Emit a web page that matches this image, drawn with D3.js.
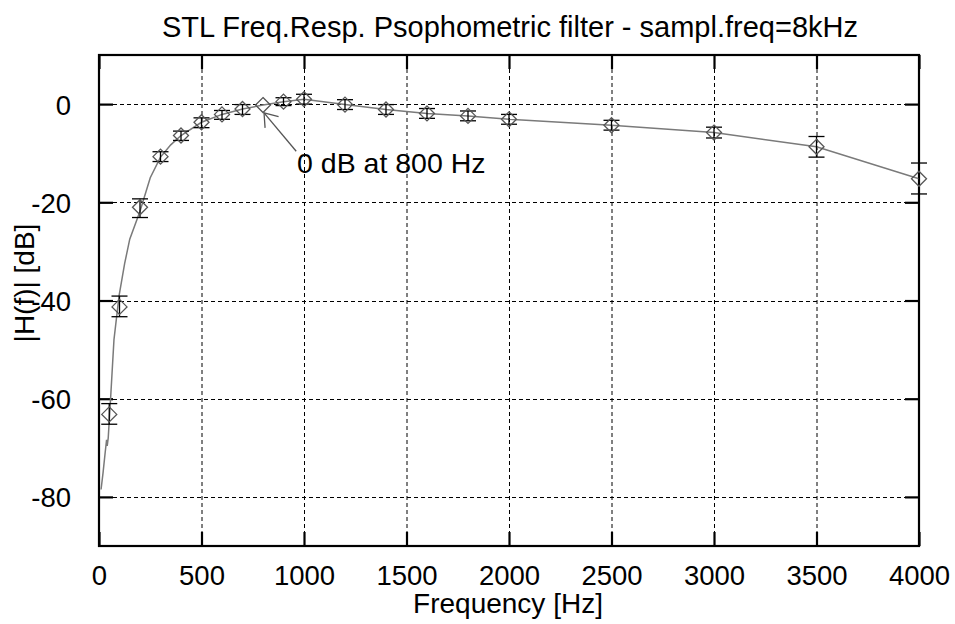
<!DOCTYPE html>
<html>
<head>
<meta charset="utf-8">
<script src="https://cdn.jsdelivr.net/npm/d3@7"></script>
<style>
  html, body { margin: 0; padding: 0; background: #fff; }
  svg text { font-family: "Liberation Sans", Arial, Helvetica, sans-serif; fill: #000; }
</style>
</head>
<body>
<svg id="chart" width="955" height="624"></svg>
<script>
// ---- data ----
const title = "STL Freq.Resp. Psophometric filter - sampl.freq=8kHz";
const xLabel = "Frequency [Hz]";
const yLabel = "|H(f)| [dB]";
const xTicks = [0, 500, 1000, 1500, 2000, 2500, 3000, 3500, 4000];
const yTicks = [0, -20, -40, -60, -80];

// measured points (diamonds) with error-bar limits
const pointFreq = [50, 100, 200, 300, 400, 500, 600, 700, 800, 900, 1000, 1200, 1400, 1600, 1800, 2000, 2500, 3000, 3500, 4000];
const pointDb   = [-63.2, -41.3, -21.0, -10.7, -6.4, -3.7, -2.1, -1.0, -0.2, 0.5, 1.0, -0.1, -1.1, -1.9, -2.4, -3.1, -4.3, -5.8, -8.7, -15.2];
const errHigh   = [-61.0, -39.1, -19.3, -9.7, -5.5, -2.8, -1.3, -0.1, null, 1.3, 2.0, 0.9, -0.1, -0.9, -1.4, -2.1, -3.3, -4.7, -6.6, -12.0];
const errLow    = [-65.2, -43.3, -23.1, -11.7, -7.4, -4.8, -3.1, -2.1, null, -0.3, 0.0, -1.1, -2.1, -2.9, -3.4, -4.1, -5.3, -6.9, -10.8, -18.3];

// filter response curve
const lineFreq = [10, 20, 30, 37, 40, 45, 57, 73, 98, 125, 150, 200, 250, 300, 350, 400, 500, 600, 700, 800, 900, 1000, 1200, 1400, 1600, 1800, 2000, 2500, 3000, 3500, 4000];
const lineDb   = [-78.5, -75.0, -71.0, -68.4, -69.6, -68.0, -59.6, -48.0, -39.0, -32.5, -27.5, -21.8, -15.0, -10.8, -8.3, -6.4, -3.7, -2.1, -1.0, -0.2, 0.5, 1.0, -0.1, -1.1, -1.9, -2.4, -3.1, -4.3, -5.8, -8.7, -15.2];

const annotText = "0 dB at 800 Hz";
const annotTail = [962, -9.6];
const annotTip  = [805, -1.8];
const annotTextPos = [966, -14.0];

// ---- layout ----
const svg = d3.select("#chart");
const L = 99, R = 919, T = 55, B = 546;
const x = d3.scaleLinear().domain([0, 4000]).range([L, R]);
const y = d3.scaleLinear().domain([-90, 10]).range([B, T]);
const FONT = 28;
const TFONT = 27.5;
const TICK = 14;

// grid
const grid = svg.append("g").attr("stroke", "#000").attr("stroke-width", 1).attr("stroke-dasharray", "4,3");
grid.selectAll("line.gx").data(xTicks.filter(d => d > 0 && d < 4000)).enter().append("line")
  .attr("x1", d => x(d) + 0.5).attr("x2", d => x(d) + 0.5).attr("y1", T).attr("y2", B);
grid.selectAll("line.gy").data(yTicks).enter().append("line")
  .attr("y1", d => Math.round(y(d)) + 0.5).attr("y2", d => Math.round(y(d)) + 0.5).attr("x1", L).attr("x2", R);

// axes via d3 axis, ticks inward
const axB = d3.axisBottom(x).tickValues(xTicks).tickSize(-TICK).tickPadding(19).tickFormat(d3.format("d"));
const axT = d3.axisTop(x).tickValues(xTicks).tickSize(-TICK).tickFormat("");
const axL = d3.axisLeft(y).tickValues(yTicks).tickSize(-TICK).tickPadding(TICK + 14).tickFormat(d => d === 0 ? "0" : d3.format("d")(d).replace("−", "-"));
const axR = d3.axisRight(y).tickValues(yTicks).tickSize(-TICK).tickFormat("");

function styleAxis(g) {
  g.select(".domain").remove();
  g.selectAll(".tick line").attr("stroke", "#000").attr("stroke-width", 2.2);
  g.selectAll(".tick text").attr("font-size", TFONT).attr("fill", "#000")
    .style("font-family", '"Liberation Sans", Arial, sans-serif');
}
svg.append("g").attr("transform", `translate(0,${B})`).call(axB).call(styleAxis);
svg.append("g").attr("transform", `translate(0,${T})`).call(axT).call(styleAxis);
svg.append("g").attr("transform", `translate(${L},0)`).call(axL).call(styleAxis)
  .selectAll(".tick text").attr("dy", "0.36em");
svg.append("g").attr("transform", `translate(${R},0)`).call(axR).call(styleAxis);

// frame
svg.append("rect").attr("x", L).attr("y", T).attr("width", R - L).attr("height", B - T)
  .attr("fill", "none").attr("stroke", "#000").attr("stroke-width", 2.2);

// response line
const lineData = lineFreq.map((f, i) => [f, lineDb[i]]);
svg.append("path").datum(lineData)
  .attr("d", d3.line().x(d => x(d[0])).y(d => y(d[1])))
  .attr("fill", "none").attr("stroke", "#7a7a7a").attr("stroke-width", 1.5);

// error bars
const pts = pointFreq.map((f, i) => ({f, v: pointDb[i], hi: errHigh[i], lo: errLow[i]}));
const eb = svg.append("g").attr("stroke", "#000").attr("stroke-width", 1.3).attr("fill", "none");
const CAP = 8;
pts.filter(p => p.hi !== null).forEach(p => {
  const cx = x(p.f);
  eb.append("line").attr("x1", cx).attr("x2", cx).attr("y1", y(p.hi)).attr("y2", y(p.lo));
  eb.append("line").attr("x1", cx - CAP).attr("x2", cx + CAP).attr("y1", y(p.hi)).attr("y2", y(p.hi));
  eb.append("line").attr("x1", cx - CAP).attr("x2", cx + CAP).attr("y1", y(p.lo)).attr("y2", y(p.lo));
});

// diamonds
const D = 7.5;
svg.append("g").selectAll("path").data(pts).enter().append("path")
  .attr("d", p => {
    const cx = x(p.f), cy = y(p.v);
    return `M${cx},${cy - D}L${cx + D},${cy}L${cx},${cy + D}L${cx - D},${cy}Z`;
  })
  .attr("fill", "none").attr("stroke", "#555").attr("stroke-width", 1.3);

// annotation arrow
const tx = x(annotTail[0]), ty = y(annotTail[1]);
const hx = x(annotTip[0]), hy = y(annotTip[1]);
const ang = Math.atan2(ty - hy, tx - hx);
const HL = 15, HA = 36 * Math.PI / 180;
const ann = svg.append("g").attr("stroke", "#555").attr("stroke-width", 1.3).attr("fill", "none");
ann.append("line").attr("x1", tx).attr("y1", ty).attr("x2", hx).attr("y2", hy);
ann.append("path").attr("d",
  `M${hx + HL * Math.cos(ang + HA)},${hy + HL * Math.sin(ang + HA)}L${hx},${hy}L${hx + HL * Math.cos(ang - HA)},${hy + HL * Math.sin(ang - HA)}`);
svg.append("text").attr("x", x(annotTextPos[0])).attr("y", y(annotTextPos[1]))
  .attr("font-size", 28.5).text(annotText);

// titles
svg.append("text").attr("x", 510).attr("y", 37).attr("text-anchor", "middle")
  .attr("font-size", 29).text(title);
svg.append("text").attr("x", 508).attr("y", 613).attr("text-anchor", "middle")
  .attr("font-size", FONT).text(xLabel);
svg.append("text").attr("transform", `translate(34,283) rotate(-90)`).attr("text-anchor", "middle")
  .attr("font-size", FONT).text(yLabel);
</script>
</body>
</html>
